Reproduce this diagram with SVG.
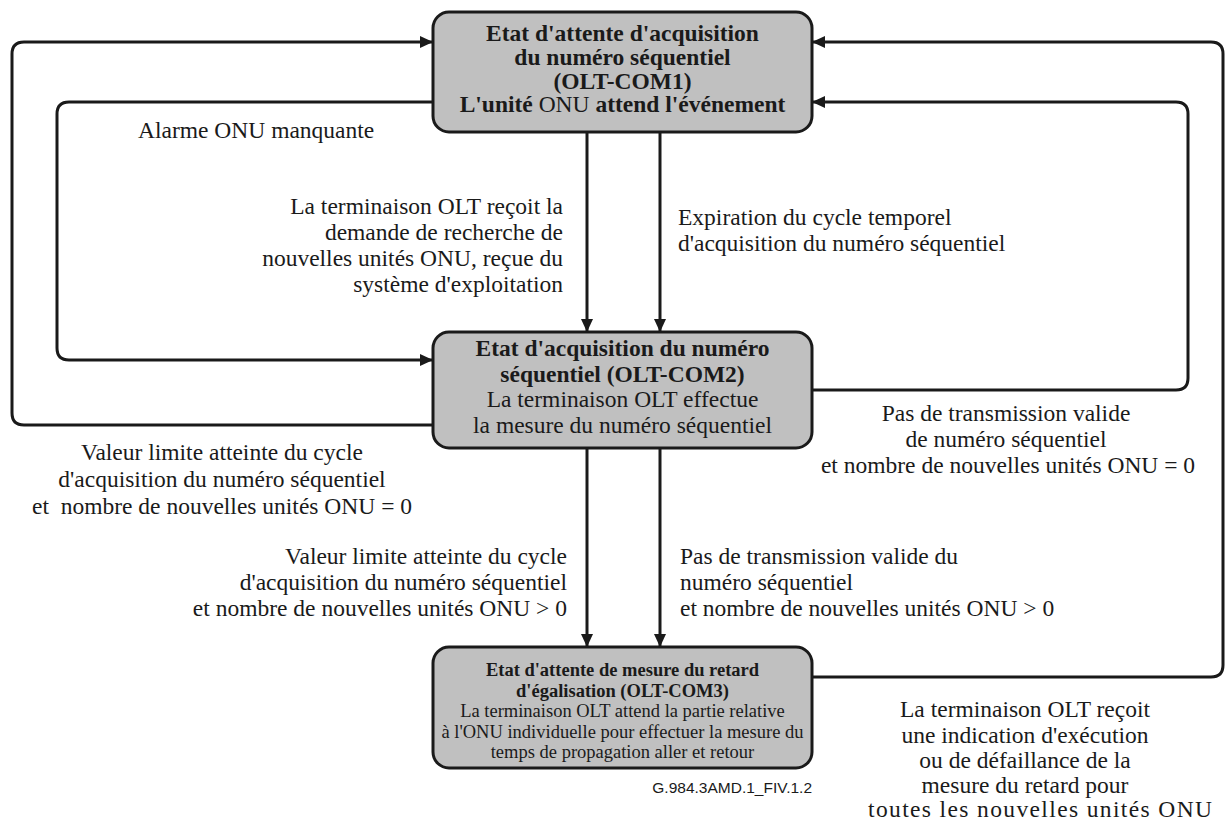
<svg xmlns="http://www.w3.org/2000/svg" width="1226" height="820" viewBox="0 0 1226 820">
<style>
.box{fill:#c0c0c0;stroke:#1a1a1a;stroke-width:3}
.ln{fill:none;stroke:#1a1a1a;stroke-width:3}
text{font-family:"Liberation Serif","Times New Roman",serif;fill:#1a1a1a}
.t{font-size:23.5px}
.b{font-weight:bold}
.m{text-anchor:middle}
.e{text-anchor:end}
.s{font-size:18.5px}
.fn{font-family:"Liberation Sans",Arial,sans-serif;font-size:15.5px;text-anchor:end}
</style>
<defs>
<marker id="ah" markerUnits="userSpaceOnUse" markerWidth="14" markerHeight="12" refX="13" refY="6" orient="auto">
<path d="M0,0 L13,6 L0,12 z" fill="#1a1a1a"/>
</marker>
</defs>
<g id="connectors">
<path class="ln" d="M433,425 H24 Q12,425 12,413 V54 Q12,42 24,42 H433" marker-end="url(#ah)"/>
<path class="ln" d="M433,102 H69 Q57,102 57,114 V348 Q57,360 69,360 H433" marker-end="url(#ah)"/>
<path class="ln" d="M812,390 H1176 Q1188,390 1188,378 V114 Q1188,102 1176,102 H812" marker-end="url(#ah)"/>
<path class="ln" d="M812,677 H1211 Q1223,677 1223,665 V54 Q1223,42 1211,42 H812" marker-end="url(#ah)"/>
<path class="ln" d="M587,132 V332" marker-end="url(#ah)"/>
<path class="ln" d="M660,132 V332" marker-end="url(#ah)"/>
<path class="ln" d="M587,448 V647" marker-end="url(#ah)"/>
<path class="ln" d="M660,448 V647" marker-end="url(#ah)"/>
</g>
<g id="olt-com1">
<rect class="box" x="433" y="12" width="379" height="120" rx="16"/>
<text class="t b m" x="622.5" y="41">Etat d'attente d'acquisition</text>
<text class="t b m" x="622.5" y="65">du numéro séquentiel</text>
<text class="t b m" x="622.5" y="89">(OLT-COM1)</text>
<text class="t b m" x="622.5" y="112">L'unité <tspan font-weight="normal">ONU</tspan> attend l'événement</text>
</g>
<g id="olt-com2">
<rect class="box" x="433" y="332" width="379" height="116" rx="16"/>
<text class="t b m" x="622.5" y="356">Etat d'acquisition du numéro</text>
<text class="t b m" x="622.5" y="382">séquentiel (OLT-COM2)</text>
<text class="t m" x="622.5" y="407">La terminaison OLT effectue</text>
<text class="t m" x="622.5" y="433">la mesure du numéro séquentiel</text>
</g>
<g id="olt-com3">
<rect class="box" x="433" y="647" width="379" height="121" rx="16"/>
<text class="s b m" x="622.5" y="676">Etat d'attente de mesure du retard</text>
<text class="s b m" x="622.5" y="697">d'égalisation (OLT-COM3)</text>
<text class="s m" x="622.5" y="717">La terminaison OLT attend la partie relative</text>
<text class="s m" x="622.5" y="738">à l'ONU individuelle pour effectuer la mesure du</text>
<text class="s m" x="622.5" y="758">temps de propagation aller et retour</text>
</g>
<g id="labels">
<text class="t" x="138" y="138">Alarme ONU manquante</text>
<text class="t e" x="563" y="214">La terminaison OLT reçoit la</text>
<text class="t e" x="563" y="240">demande de recherche de</text>
<text class="t e" x="563" y="266">nouvelles unités ONU, reçue du</text>
<text class="t e" x="563" y="292">système d'exploitation</text>
<text class="t" x="678" y="225">Expiration du cycle temporel</text>
<text class="t" x="678" y="251">d'acquisition du numéro séquentiel</text>
<text class="t m" x="222" y="460">Valeur limite atteinte du cycle</text>
<text class="t m" x="222" y="487">d'acquisition du numéro séquentiel</text>
<text class="t m" x="222" y="514" xml:space="preserve">et  nombre de nouvelles unités ONU = 0</text>
<text class="t m" x="1006" y="421">Pas de transmission valide</text>
<text class="t m" x="1006" y="447">de numéro séquentiel</text>
<text class="t m" x="1008" y="473">et nombre de nouvelles unités ONU = 0</text>
<text class="t e" x="567" y="564">Valeur limite atteinte du cycle</text>
<text class="t e" x="567" y="590">d'acquisition du numéro séquentiel</text>
<text class="t e" x="567" y="616">et nombre de nouvelles unités ONU &gt; 0</text>
<text class="t" x="680" y="564">Pas de transmission valide du</text>
<text class="t" x="680" y="590">numéro séquentiel</text>
<text class="t" x="680" y="616">et nombre de nouvelles unités ONU &gt; 0</text>
<text class="t m" x="1025" y="717">La terminaison OLT reçoit</text>
<text class="t m" x="1025" y="743">une indication d'exécution</text>
<text class="t m" x="1025" y="768">ou de défaillance de la</text>
<text class="t m" x="1025" y="793">mesure du retard pour</text>
<text class="t m" x="1040" y="817" textLength="344" lengthAdjust="spacing">toutes les nouvelles unités ONU</text>
<text class="fn" x="812" y="793">G.984.3AMD.1_FIV.1.2</text>
</g>
</svg>
